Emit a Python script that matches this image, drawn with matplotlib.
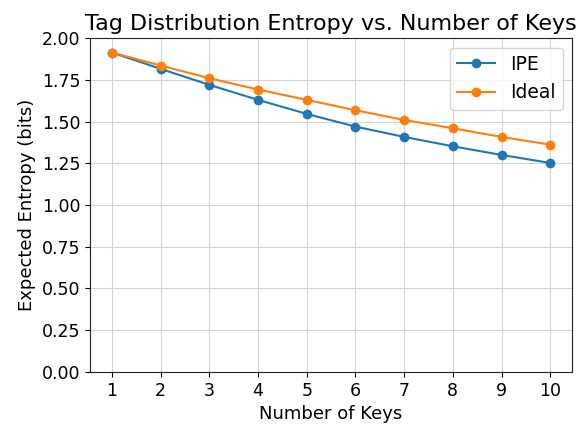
import matplotlib
matplotlib.use("Agg")
import matplotlib.pyplot as plt

# Expected entropy of the tag distribution for 1..10 keys
keys = [1, 2, 3, 4, 5, 6, 7, 8, 9, 10]
ipe = [1.914, 1.816, 1.720, 1.630, 1.546, 1.470, 1.408, 1.352, 1.300, 1.252]
ideal = [1.914, 1.836, 1.760, 1.692, 1.630, 1.568, 1.510, 1.460, 1.408, 1.362]

fig = plt.figure(figsize=(5.85, 4.24), dpi=100)
ax = fig.add_axes([0.154, 0.123, 0.824, 0.787])

ax.plot(keys, ipe, marker="o", color="#1f77b4", label="IPE")
ax.plot(keys, ideal, marker="o", color="#ff7f0e", label="Ideal")

ax.set_ylim(0, 2.0)
ax.set_xticks(keys)
ax.set_yticks([0, 0.25, 0.5, 0.75, 1.0, 1.25, 1.5, 1.75, 2.0])
ax.set_yticklabels(["%.2f" % v for v in ax.get_yticks()])
ax.tick_params(labelsize=12.5)
ax.grid(True, color="#d3d3d3", linewidth=0.8)
ax.set_axisbelow(True)
for s in ax.spines.values():
    s.set_color("#222222")

ax.set_xlabel("Number of Keys", fontsize=13)
ax.set_ylabel("Expected Entropy (bits)", fontsize=13)
ax.set_title("Tag Distribution Entropy vs. Number of Keys", fontsize=16)
ax.legend(fontsize=13.5, loc="upper right")

fig.savefig("out.png", dpi=100)
